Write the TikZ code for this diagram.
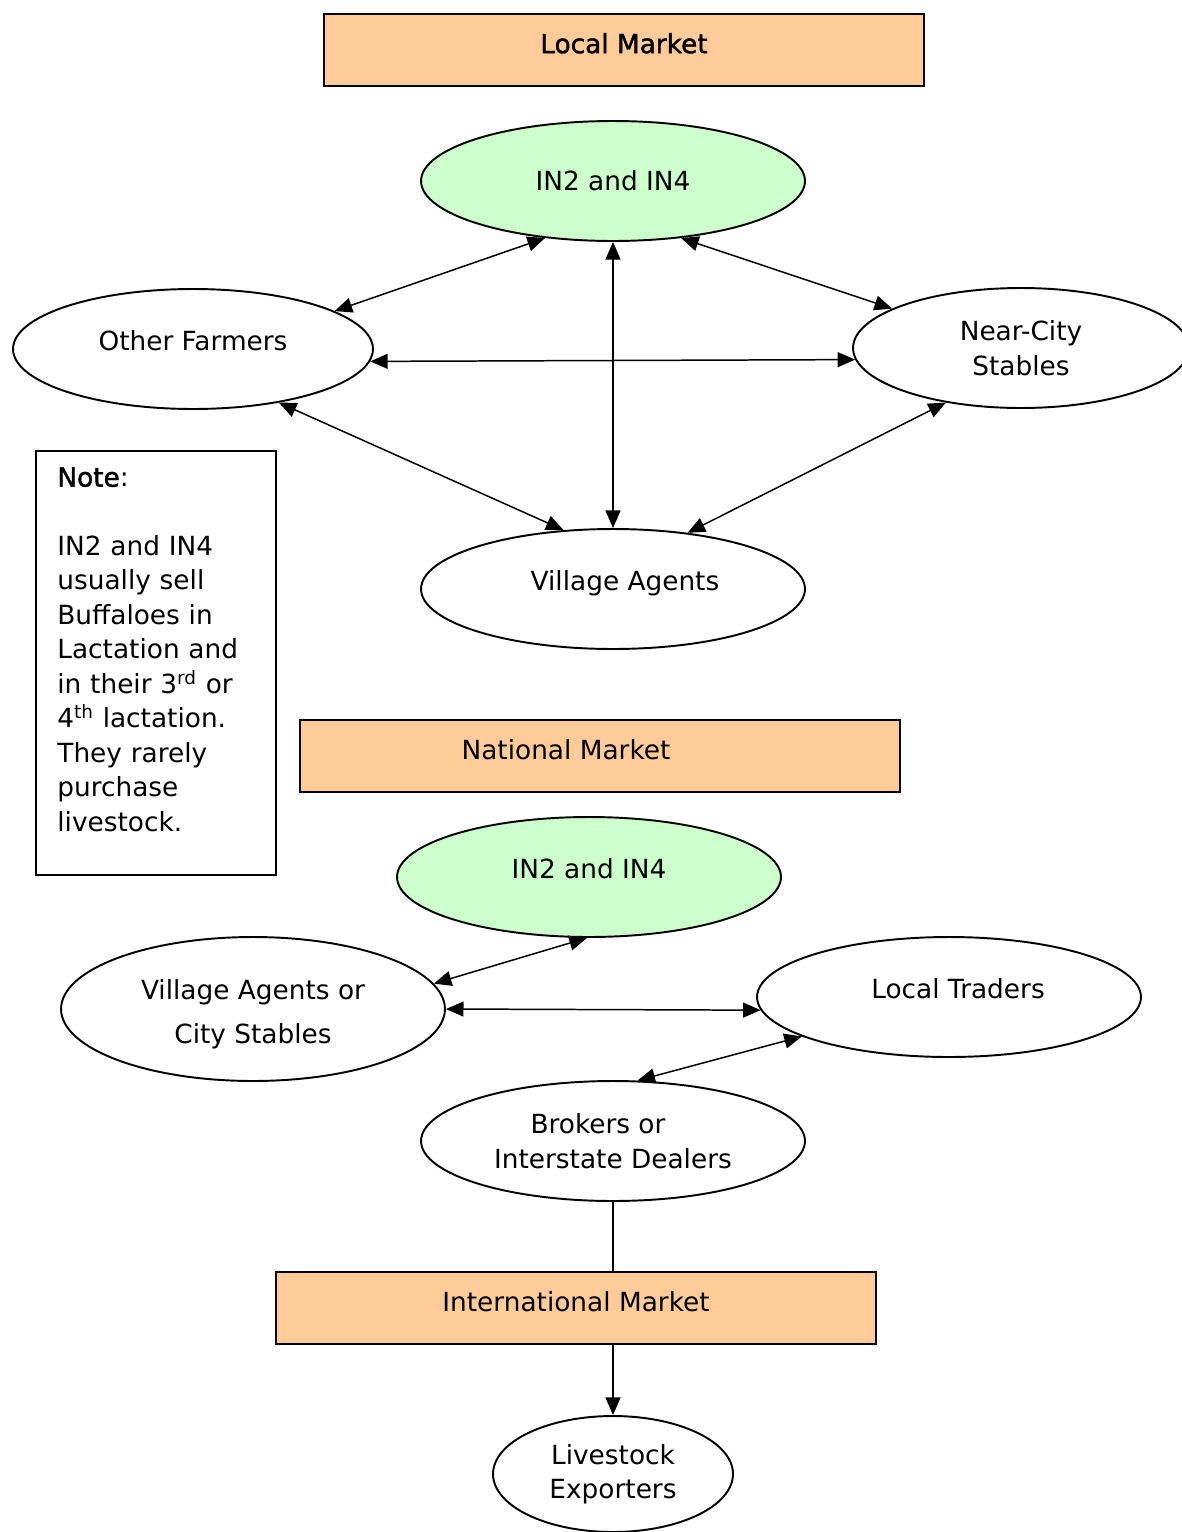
\documentclass[tikz,border=0pt]{standalone}
\usepackage{fontspec}
\setmainfont{DejaVu Sans}
\usepackage{tikz}
\usetikzlibrary{arrows.meta,positioning,shapes.geometric}
\definecolor{marketorange}{HTML}{FFCC99}
\definecolor{in2green}{HTML}{CCFFCC}
\newcommand{\heavy}[1]{{\addfontfeature{FakeBold=1.5}#1}}

\begin{document}
\begin{tikzpicture}[
    x=0.02cm, y=-0.02cm,
    font=\fontsize{15}{19.6}\selectfont,
    market/.style={rectangle, draw, line width=1.1pt, fill=marketorange, minimum width=12cm, minimum height=1.44cm, text height=11pt, text depth=7.4pt},
    party/.style={ellipse, draw, line width=1.1pt, fill=white, align=center, minimum width=7.68cm, minimum height=2.4cm},
    lifted/.style={text height=11pt, text depth=9pt},
    notebox/.style={rectangle, draw, line width=1.1pt, minimum width=4.8cm, minimum height=8.48cm},
    link/.style={{Triangle[length=10pt,width=8.5pt]}-{Triangle[length=10pt,width=8.5pt]}, line width=0.85pt},
    oneway/.style={-{Triangle[length=10pt,width=8.5pt]}, line width=0.85pt}
  ]
    \useasboundingbox (0,0) rectangle (1181,1532);
    % local market
    \node[market] (local) at (624,50) {\heavy{Local Market}};
    \node[party, fill=in2green] (in2top) at (613,181) {IN2 and IN4};
    \node[party, lifted, minimum width=7.2cm] (farmers) at (193,349) {Other Farmers};
    \node[party, minimum width=6.72cm] (stables) at (1021,348) {Near-City\\Stables};
    \node[party, lifted] (agents) at (613,589) {\kern0.48cm Village Agents};
    \draw[link] (in2top.220) -- (farmers.15);
    \draw[link] (in2top.320) -- (stables.163);
    \draw[link] (in2top.south) -- (agents.north);
    \draw[link] (farmers.-4) -- (stables.184);
    \draw[link] (farmers.-32) -- (agents.130);
    \draw[link] (stables.216) -- (agents.37);
    % note
    \node[notebox] (note) at (156,663) {};
    \node[anchor=north west, inner sep=0pt, text width=4.2cm, align=left, below right=0.34cm and 0.44cm of note.north west] (notetext)
      {\heavy{Note}:\\[19.6pt]
       IN2 and IN4\\
       usually sell\\
       Buffaloes in\\
       Lactation and\\
       in their 3\textsuperscript{rd} or\\
       4\textsuperscript{th} lactation.\\
       They rarely\\
       purchase\\
       livestock.};
    % national market
    \node[market] (national) at (600,756) {National Market\kern1.36cm};
    \node[party, lifted, fill=in2green] (in2bottom) at (589,877) {IN2 and IN4};
    \node[party, minimum height=2.88cm, text height=42pt] (villagecity) at (253,1009) {Village Agents or\\[5pt]City Stables};
    \node[party, lifted] (traders) at (949,997) {\kern0.36cm Local Traders};
    \node[party] (brokers) at (613,1141) {Brokers or\kern0.6cm\\Interstate Dealers};
    \draw[link] (in2bottom.268) -- (villagecity.8);
    \draw[link] (villagecity.east) -- (traders.184);
    \draw[link] (traders.195) -- (brokers.68);
    % international market
    \node[market] (international) at (576,1308) {International Market};
    \node[party, minimum width=4.8cm, minimum height=2.32cm] (exporters) at (613,1474) {Livestock\\Exporters};
    \draw[line width=0.85pt] (brokers.south) -- (brokers.south |- international.north);
    \draw[oneway] (exporters.north |- international.south) -- (exporters.north);
\end{tikzpicture}
\end{document}
